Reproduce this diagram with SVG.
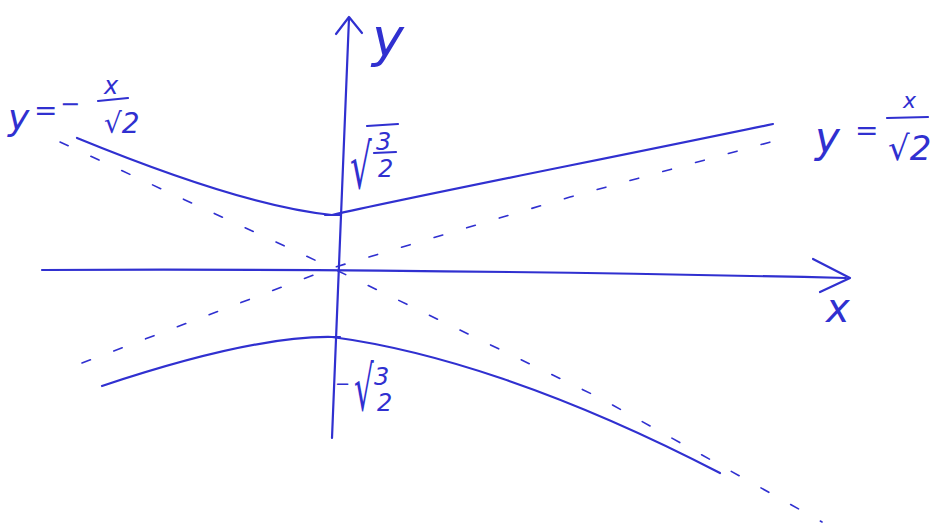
<svg xmlns="http://www.w3.org/2000/svg" width="940" height="527" viewBox="0 0 940 527">
<style>
.ink{fill:none;stroke:#3030d0;stroke-width:2.2;stroke-linecap:round;stroke-linejoin:round}
.dash{fill:none;stroke:#3030d0;stroke-width:1.6;stroke-dasharray:9 25;stroke-linecap:round}
.t{fill:#3030d0;font-family:"DejaVu Sans","Liberation Sans",sans-serif;font-style:italic}
.m{fill:#3030d0;font-family:"DejaVu Sans","Liberation Sans",sans-serif}
</style>
<rect width="940" height="527" fill="#ffffff"/>
<g id="connectors">
  <path id="asym-neg" class="dash" d="M60 142 L332 268 L600 398 L822 522"/>
  <path id="asym-pos" class="dash" d="M82 363 L332 268 L570 197 L785 138"/>
</g>
<g id="x-axis">
  <path class="ink" d="M42 270 Q400 268 846 278"/>
  <path class="ink" d="M813 259 L850 278 L820 292"/>
  <text class="t" x="826" y="322" font-size="40">x</text>
</g>
<g id="y-axis">
  <path class="ink" d="M349 18 L332 438"/>
  <path class="ink" d="M336 34 L349 17 L362 33"/>
  <text class="t" x="372" y="56" font-size="54">y</text>
</g>
<g id="upper-branch">
  <path class="ink" d="M77 138 C160 172 260 208 332 215 C420 195 600 160 773 124"/>
  <path class="ink" d="M325 215 L340 215"/>
</g>
<g id="lower-branch">
  <path class="ink" d="M102 386 C180 360 270 336 332 337 C430 350 560 390 720 473"/>
  <path class="ink" d="M325 337 L340 337"/>
</g>
<g id="label-vertex-top">
  <text class="m" x="350" y="188" font-size="62" transform="translate(350 188) scale(0.55 1) translate(-350 -188)">√</text>
  <path class="ink" d="M367 126 L398 124"/>
  <text class="t" x="376" y="150" font-size="24">3</text>
  <path class="ink" d="M374 153 L396 152"/>
  <text class="t" x="378" y="177" font-size="24">2</text>
</g>
<g id="label-vertex-bottom">
  <text class="m" x="335" y="390" font-size="18">−</text>
  <text class="m" x="354" y="410" font-size="62" transform="translate(354 410) scale(0.5 1) translate(-354 -410)">√</text>
  <text class="t" x="374" y="385" font-size="24">3</text>
  <text class="t" x="377" y="411" font-size="24">2</text>
</g>
<g id="label-asym-neg">
  <text class="t" x="8" y="130" font-size="36">y</text>
  <text class="t" x="34" y="120" font-size="28">=</text>
  <text class="m" x="60" y="112" font-size="24">−</text>
  <text class="t" x="104" y="94" font-size="24">x</text>
  <path class="ink" d="M98 101 L128 98"/>
  <text class="t" x="104" y="133" font-size="28">√2</text>
</g>
<g id="label-asym-pos">
  <text class="t" x="815" y="152" font-size="42">y</text>
  <text class="t" x="855" y="140" font-size="28">=</text>
  <text class="t" x="903" y="108" font-size="22">x</text>
  <path class="ink" d="M887 118 L928 117"/>
  <text class="t" x="888" y="160" font-size="34">√2</text>
</g>
</svg>
